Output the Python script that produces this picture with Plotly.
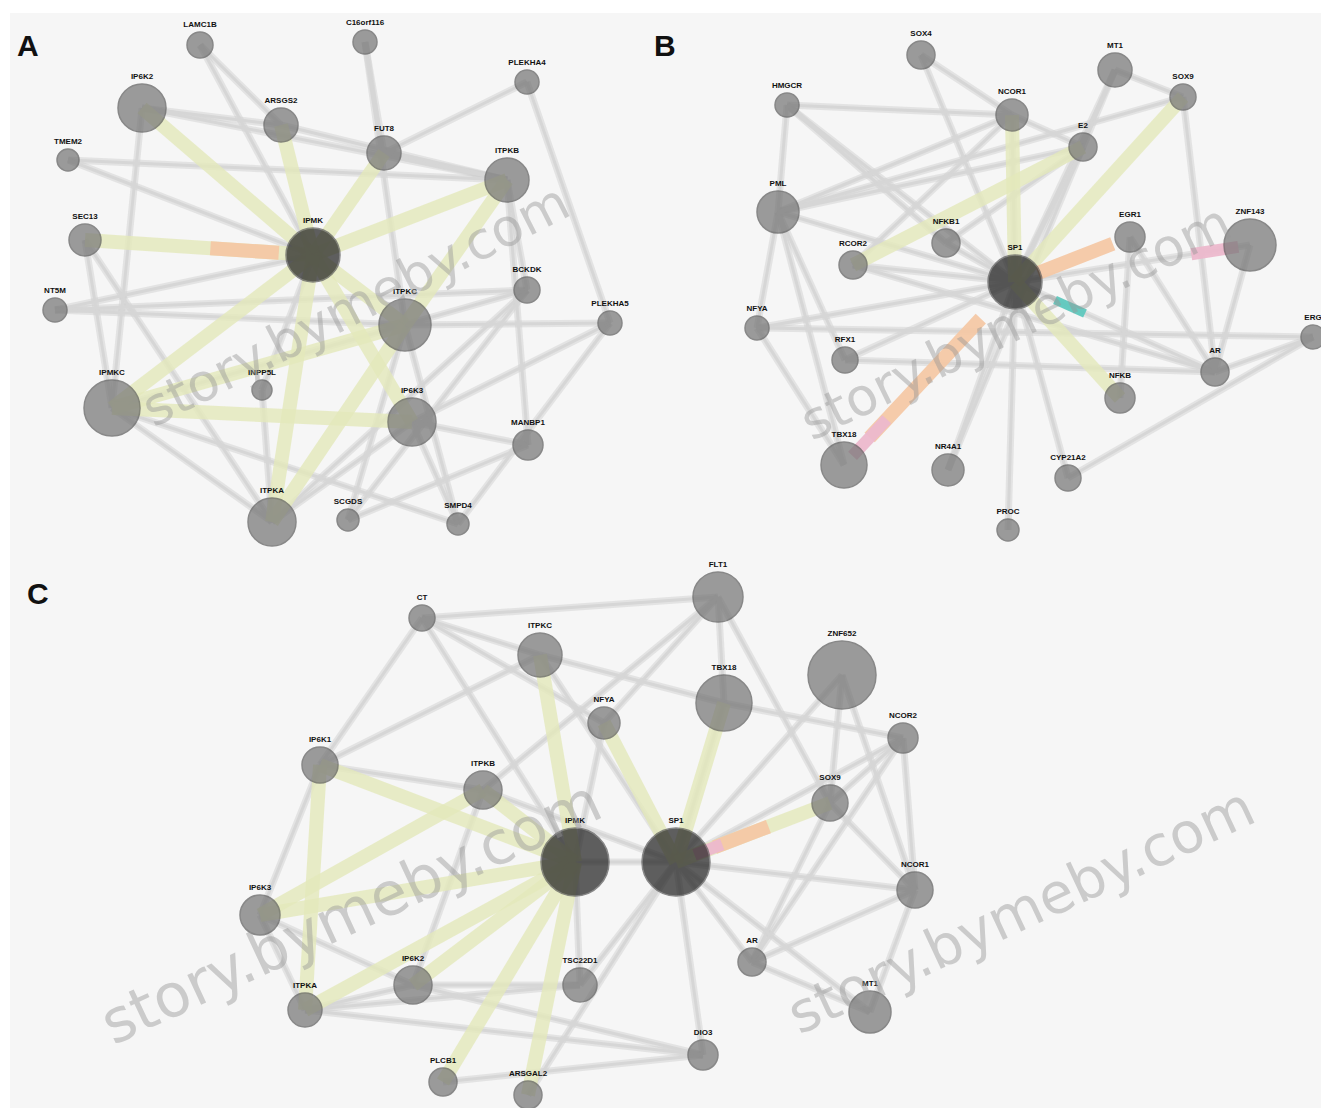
import plotly.graph_objects as go

# ---------------- data ----------------
# Panel A
names_A = ["LAMC1B", "C16orf116", "PLEKHA4", "IP6K2", "ARSGS2", "FUT8", "TMEM2", "ITPKB",
           "SEC13", "IPMK", "BCKDK", "PLEKHA5", "NT5M", "ITPKC", "IPMKC", "INPP5L",
           "IP6K3", "MANBP1", "ITPKA", "SCGDS", "SMPD4"]
degree_A = [13, 12, 12, 24, 17, 17, 11, 22, 16, 27, 13, 12, 12, 26, 28, 10, 24, 15, 24, 11, 11]
hub_A = ["IPMK"]
edges_A_gray = [("LAMC1B", "ARSGS2"), ("LAMC1B", "IPMK"), ("C16orf116", "FUT8"), ("C16orf116", "ITPKC"),
                ("PLEKHA4", "FUT8"), ("PLEKHA4", "PLEKHA5"), ("IP6K2", "ARSGS2"), ("IP6K2", "IPMKC"),
                ("TMEM2", "ITPKB"), ("TMEM2", "IPMK"), ("ARSGS2", "ITPKB"), ("FUT8", "ITPKB"),
                ("SEC13", "IPMKC"), ("SEC13", "ITPKA"), ("NT5M", "IPMK"), ("NT5M", "BCKDK"),
                ("NT5M", "ITPKC"), ("BCKDK", "IPMKC"), ("BCKDK", "ITPKA"), ("BCKDK", "SCGDS"),
                ("BCKDK", "ITPKB"), ("PLEKHA5", "ITPKC"), ("PLEKHA5", "SMPD4"), ("PLEKHA5", "IP6K3"),
                ("MANBP1", "ITPKB"), ("MANBP1", "IP6K3"), ("MANBP1", "SCGDS"), ("IPMKC", "ITPKA"),
                ("ITPKA", "IP6K3"), ("SCGDS", "ITPKC"), ("SMPD4", "ITPKC"), ("SMPD4", "IP6K3"),
                ("INPP5L", "ITPKA"), ("INPP5L", "IPMK"), ("IP6K2", "ITPKB"), ("IPMKC", "SMPD4")]
edges_A_yellow = [("IPMK", "IP6K2"), ("IPMK", "ITPKB"), ("IPMK", "SEC13"), ("IPMK", "FUT8"),
                  ("IPMK", "ARSGS2"), ("IPMK", "ITPKC"), ("IPMK", "IP6K3"), ("IPMK", "IPMKC"),
                  ("IPMK", "ITPKA"), ("ITPKC", "IPMKC"), ("IP6K3", "IPMKC"), ("ITPKA", "ITPKC"),
                  ("ITPKB", "ITPKC")]
edges_A_salmon = [("SEC13", "IPMK")]

# Panel B
names_B = ["SOX4", "HMGCR", "MT1", "NCOR1", "SOX9", "E2", "PML", "NFKB1", "RCOR2", "SP1", "EGR1",
           "ZNF143", "NFYA", "RFX1", "AR", "NFKB", "ERG", "TBX18", "NR4A1", "CYP21A2", "PROC"]
degree_B = [14, 12, 17, 16, 13, 14, 21, 14, 14, 27, 15, 26, 12, 13, 14, 15, 12, 23, 16, 13, 11]
hub_B = ["SP1"]
edges_B_gray = [("SP1", n) for n in ["SOX4", "MT1", "NCOR1", "E2", "PML", "NFKB1", "RCOR2", "ZNF143",
                                      "NFYA", "RFX1", "AR", "NR4A1", "CYP21A2", "PROC", "HMGCR"]] + \
               [("HMGCR", "PML"), ("HMGCR", "NCOR1"), ("HMGCR", "NFKB1"), ("SOX4", "NCOR1"),
                ("MT1", "E2"), ("MT1", "SOX9"), ("NCOR1", "E2"), ("NCOR1", "PML"), ("NCOR1", "RCOR2"),
                ("SOX9", "AR"), ("PML", "NFYA"), ("PML", "RFX1"), ("PML", "SOX9"), ("NFYA", "TBX18"),
                ("NFYA", "ERG"), ("RFX1", "AR"), ("AR", "ERG"), ("AR", "EGR1"), ("ERG", "CYP21A2"),
                ("ZNF143", "AR"), ("EGR1", "NFKB"), ("PML", "TBX18"), ("RCOR2", "AR"),
                ("NR4A1", "E2"), ("NFKB1", "E2"), ("PML", "E2")]
edges_B_yellow = [("SP1", "SOX9"), ("SP1", "NFKB"), ("SP1", "NCOR1"), ("RCOR2", "E2")]
edges_B_salmon = [("SP1", "EGR1"), ("SP1", "TBX18")]
edges_B_pink = [("SP1", "ZNF143"), ("SP1", "TBX18")]
edges_B_teal = [("SP1", "AR")]

# Panel C
names_C = ["CT", "FLT1", "ITPKC", "ZNF652", "TBX18", "NFYA", "NCOR2", "IP6K1", "ITPKB", "SOX9",
           "IPMK", "SP1", "NCOR1", "IP6K3", "AR", "IP6K2", "TSC22D1", "ITPKA", "MT1", "DIO3",
           "PLCB1", "ARSGAL2"]
degree_C = [13, 25, 22, 34, 28, 16, 15, 18, 19, 18, 34, 34, 18, 20, 14, 19, 17, 17, 21, 15, 14, 14]
hub_C = ["IPMK", "SP1"]
edges_C_gray = [("CT", "FLT1"), ("CT", "ITPKC"), ("CT", "IP6K1"), ("CT", "IPMK"), ("FLT1", "NFYA"),
                ("FLT1", "TBX18"), ("FLT1", "SOX9"), ("ITPKC", "TBX18"), ("ITPKC", "SP1"),
                ("ITPKC", "IP6K1"), ("ZNF652", "SP1"), ("ZNF652", "SOX9"), ("TBX18", "SP1"),
                ("NFYA", "IPMK"), ("NCOR2", "SOX9"), ("NCOR2", "NCOR1"), ("NCOR2", "AR"),
                ("NCOR2", "SP1"), ("IP6K1", "ITPKB"), ("IP6K1", "IP6K3"), ("ITPKB", "SP1"),
                ("ITPKB", "IP6K2"), ("SOX9", "NCOR1"), ("SOX9", "AR"), ("IPMK", "SP1"),
                ("NCOR1", "SP1"), ("NCOR1", "AR"), ("NCOR1", "MT1"), ("IP6K3", "ITPKA"),
                ("IP6K3", "IP6K2"), ("AR", "SP1"), ("AR", "MT1"), ("IP6K2", "ITPKA"),
                ("IP6K2", "TSC22D1"), ("IP6K2", "DIO3"), ("TSC22D1", "IPMK"), ("TSC22D1", "SP1"),
                ("ITPKA", "DIO3"), ("ITPKA", "TSC22D1"), ("MT1", "SP1"), ("DIO3", "SP1"),
                ("DIO3", "PLCB1"), ("ARSGAL2", "SP1"), ("CT", "NFYA"), ("FLT1", "ITPKB"),
                ("NCOR2", "TBX18"), ("ZNF652", "NCOR1")]
edges_C_yellow = [("IPMK", n) for n in ["IP6K1", "ITPKB", "IP6K3", "IP6K2", "ITPKA", "PLCB1",
                                        "ARSGAL2", "ITPKC"]] + \
                 [("IP6K1", "ITPKA"), ("SP1", "NFYA"), ("SP1", "TBX18"), ("SP1", "SOX9"),
                  ("ITPKB", "IP6K3")]
edges_C_salmon = [("SP1", "SOX9")]
edges_C_pink = [("SP1", "SOX9")]

# ---------------- layout of the drawing (pixel space) ----------------
layout_A = dict(x=[200, 365, 527, 142, 281, 384, 68, 507, 85, 313, 527, 610, 55, 405, 112, 262, 412, 528, 272, 348, 458],
                y=[45, 42, 82, 108, 125, 153, 160, 180, 240, 255, 290, 323, 310, 325, 408, 390, 422, 445, 522, 520, 524])
layout_B = dict(x=[921, 787, 1115, 1012, 1183, 1083, 778, 946, 853, 1015, 1130, 1250, 757, 845, 1215, 1120, 1313, 844, 948, 1068, 1008],
                y=[55, 105, 70, 115, 97, 147, 212, 243, 265, 282, 237, 245, 328, 360, 372, 398, 337, 465, 470, 478, 530])
layout_C = dict(x=[422, 718, 540, 842, 724, 604, 903, 320, 483, 830, 575, 676, 915, 260, 752, 413, 580, 305, 870, 703, 443, 528],
                y=[618, 597, 655, 675, 703, 723, 738, 765, 790, 803, 862, 862, 890, 915, 962, 985, 985, 1010, 1012, 1055, 1082, 1095])

W, H = 1329, 1108
# the page body adds an 8px offset; the paper is shrunk so the drawing maps onto the window
PAD = 8
fig = go.Figure()

GRAY_HALO = "rgba(205,205,205,0.45)"
GRAY = "#d6d6d6"
YELLOW = "rgba(228,232,186,0.8)"
SALMON = "rgba(244,200,165,0.95)"
PINK = "rgba(236,184,204,0.95)"
TEAL = "rgba(95,200,190,0.95)"


def add_edges(pos, edges, color, width, t0=0.0, t1=1.0):
    xs, ys = [], []
    for a, b in edges:
        xa, ya = pos[a]
        xb, yb = pos[b]
        xs += [xa + (xb - xa) * t0, xa + (xb - xa) * t1, None]
        ys += [ya + (yb - ya) * t0, ya + (yb - ya) * t1, None]
    fig.add_trace(go.Scatter(x=xs, y=ys, mode="lines", hoverinfo="skip",
                             line=dict(color=color, width=width), showlegend=False))


def add_panel(names, deg, hubs, lay, gray, yellow, salmon=(), pink=(), teal=(),
              salmon_t=(0.0, 1.0), pink_t=(0.0, 0.3)):
    pos = {n: (x, y) for n, x, y in zip(names, lay["x"], lay["y"])}
    add_edges(pos, gray, GRAY_HALO, 7)
    add_edges(pos, gray, GRAY, 3)
    add_edges(pos, yellow, YELLOW, 14)
    if salmon:
        add_edges(pos, salmon, SALMON, 14, *salmon_t)
    if pink:
        add_edges(pos, pink, PINK, 12, *pink_t)
    if teal:
        add_edges(pos, teal, TEAL, 9, 0.2, 0.35)
    cols = ["#1e1e1e" if n in hubs else "#747474" for n in names]
    fig.add_trace(go.Scatter(
        x=lay["x"], y=lay["y"], mode="markers", hoverinfo="text", text=names,
        marker=dict(size=[2 * d for d in deg], color=cols,
                    line=dict(color="#5a5a5a", width=1.5)),
        showlegend=False))
    fig.add_trace(go.Scatter(
        x=[min(x, W - 16) for x in lay["x"]], y=[y - d - 7 for y, d in zip(lay["y"], deg)],
        mode="text", text=["<b>%s</b>" % n for n in names], hoverinfo="skip",
        textfont=dict(family="Liberation Sans, Arial", size=8, color="#111111"),
        showlegend=False))


add_panel(names_A, degree_A, hub_A, layout_A, edges_A_gray, edges_A_yellow,
          salmon=edges_A_salmon, salmon_t=(0.55, 0.85))
add_panel(names_B, degree_B, hub_B, layout_B, edges_B_gray, edges_B_yellow,
          salmon=edges_B_salmon, pink=edges_B_pink, teal=edges_B_teal,
          salmon_t=(0.2, 0.85), pink_t=(0.75, 0.95))
add_panel(names_C, degree_C, hub_C, layout_C, edges_C_gray, edges_C_yellow,
          salmon=edges_C_salmon, pink=edges_C_pink, salmon_t=(0.25, 0.6), pink_t=(0.12, 0.3))

# panel letters
for letter, lx, ly in [("A", 28, 45), ("B", 665, 45), ("C", 38, 593)]:
    fig.add_annotation(x=lx, y=ly, text="<b>%s</b>" % letter, showarrow=False,
                       font=dict(family="Liberation Sans, Arial", size=30, color="#111111"))

# watermarks
for cx, cy, ang, fs in [(355, 305, -27, 52), (1015, 322, -26, 52), (350, 912, -25, 60), (1020, 910, -25, 56)]:
    fig.add_annotation(x=cx, y=cy, text="story.bymeby.com", showarrow=False, textangle=ang,
                       font=dict(family="DejaVu Sans, Arial", size=fs, color="rgba(150,150,150,0.45)"))

fig.update_layout(
    width=W - PAD, height=H - PAD, margin=dict(l=10 - PAD, r=0, t=13 - PAD, b=0, autoexpand=False),
    paper_bgcolor="white", plot_bgcolor="#f6f6f6",
    xaxis=dict(range=[10, W], visible=False, fixedrange=True),
    yaxis=dict(range=[H, 13], visible=False, fixedrange=True),
)
fig.write_html("out.html")
